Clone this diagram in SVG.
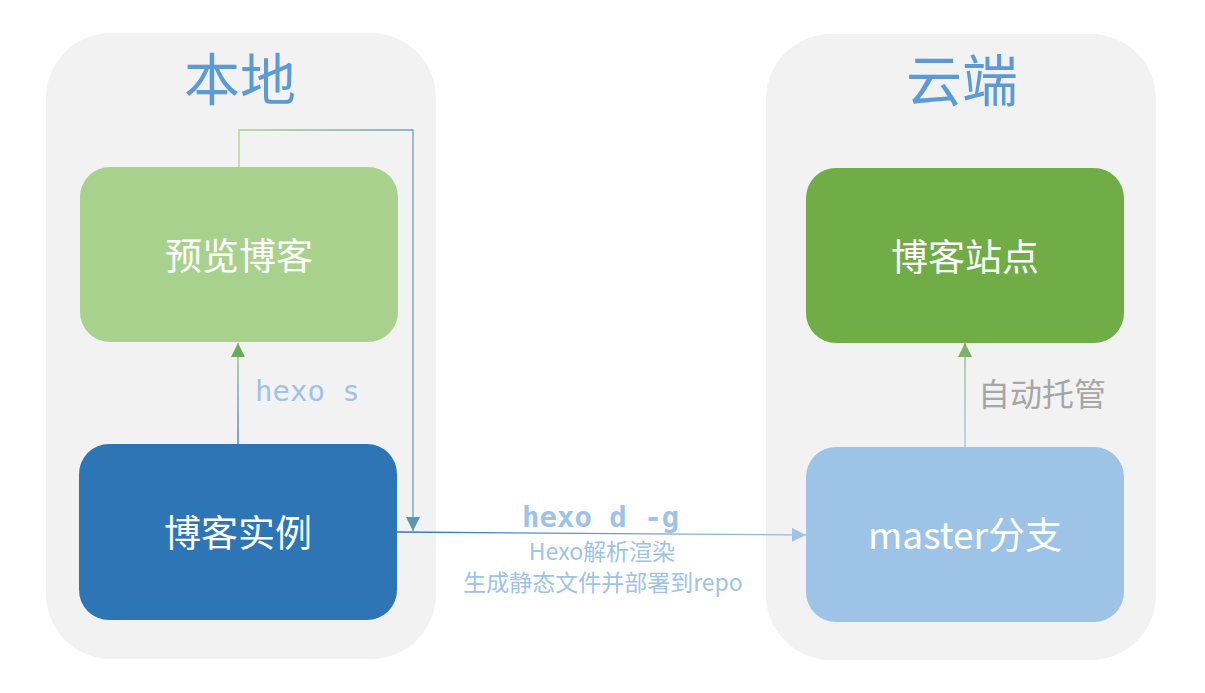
<svg xmlns="http://www.w3.org/2000/svg" width="1205" height="693" viewBox="0 0 1205 693">
<style>
.panel{fill:#F2F2F2}
.title{font-family:"Noto Sans CJK SC","Noto Sans",sans-serif;font-size:56px;fill:#5B9BD5;text-anchor:middle}
.lbl{font-family:"Noto Sans CJK SC","Noto Sans",sans-serif;font-size:37px;fill:#FFFFFF;text-anchor:middle}
.code{font-family:"DejaVu Sans Mono","Liberation Mono",monospace;font-size:29px;fill:#9DC3E6}
.note{font-family:"Noto Sans CJK SC","Noto Sans",sans-serif;font-size:23px;fill:#9DC3E6;text-anchor:middle}
.conn{fill:none;stroke-width:1.3}
</style>
<defs>
<linearGradient id="gS" gradientUnits="userSpaceOnUse" x1="238" y1="444" x2="238" y2="350">
<stop offset="0" stop-color="#4472C4"/><stop offset="1" stop-color="#8FC07A"/>
</linearGradient>
<linearGradient id="gLoop" gradientUnits="userSpaceOnUse" x1="239" y1="130" x2="413" y2="130">
<stop offset="0" stop-color="#A9D18E"/><stop offset="1" stop-color="#6E9FB8"/>
</linearGradient>
<linearGradient id="gD" gradientUnits="userSpaceOnUse" x1="397" y1="532" x2="806" y2="535">
<stop offset="0" stop-color="#2E75B6"/><stop offset="1" stop-color="#9DC3E6"/>
</linearGradient>
<linearGradient id="gA" gradientUnits="userSpaceOnUse" x1="965" y1="447" x2="965" y2="350">
<stop offset="0" stop-color="#9DC3E6"/><stop offset="1" stop-color="#8DB88A"/>
</linearGradient>
<marker id="mGreen" markerUnits="userSpaceOnUse" markerWidth="14" markerHeight="14" viewBox="0 0 12 12" refX="12" refY="6" orient="auto">
<path d="M0,0 L12,6 L0,12 Z" fill="#6AAB5A"/>
</marker>
<marker id="mTeal" markerUnits="userSpaceOnUse" markerWidth="14" markerHeight="14" viewBox="0 0 12 12" refX="12" refY="6" orient="auto">
<path d="M0,0 L12,6 L0,12 Z" fill="#5B97AF"/>
</marker>
<marker id="mLight" markerUnits="userSpaceOnUse" markerWidth="14" markerHeight="14" viewBox="0 0 12 12" refX="12" refY="6" orient="auto">
<path d="M0,0 L12,6 L0,12 Z" fill="#9DC3E6"/>
</marker>
<marker id="mGreen2" markerUnits="userSpaceOnUse" markerWidth="14" markerHeight="14" viewBox="0 0 12 12" refX="12" refY="6" orient="auto">
<path d="M0,0 L12,6 L0,12 Z" fill="#7AB06A"/>
</marker>
</defs>
<rect width="1205" height="693" fill="#FFFFFF"/>
<g id="panel-local">
<rect class="panel" x="46" y="33" width="390" height="626" rx="65"/>
<text class="title" x="240" y="100">本地</text>
</g>
<g id="panel-cloud">
<rect class="panel" x="766" y="34" width="390" height="626" rx="65"/>
<text class="title" x="962" y="101">云端</text>
</g>
<g id="connectors">
<path class="conn" d="M238,444 L238,343" stroke="url(#gS)" marker-end="url(#mGreen)"/>
<path class="conn" d="M239,167 L239,130 L413,130 L413,531" stroke="url(#gLoop)" marker-end="url(#mTeal)"/>
<path class="conn" d="M397,532 L806,535" stroke="url(#gD)" marker-end="url(#mLight)"/>
<path class="conn" d="M965,447 L965,343" stroke="url(#gA)" marker-end="url(#mGreen2)"/>
<text class="code" x="255" y="401">hexo s</text>
<text class="code" x="522" y="527" font-weight="bold">hexo d -g</text>
<text class="note" x="602" y="560">Hexo解析渲染</text>
<text class="note" x="603" y="591">生成静态文件并部署到repo</text>
<text x="1042" y="406" font-family="Noto Sans CJK SC,sans-serif" font-size="32" fill="#A6A6A6" text-anchor="middle">自动托管</text>
</g>
<g id="node-preview">
<rect x="80" y="167" width="318" height="175" rx="30" fill="#A9D18E"/>
<text class="lbl" x="239" y="270">预览博客</text>
</g>
<g id="node-instance">
<rect x="79" y="444" width="318" height="176" rx="30" fill="#2E75B6"/>
<text class="lbl" x="238" y="547">博客实例</text>
</g>
<g id="node-site">
<rect x="806" y="168" width="318" height="175" rx="30" fill="#70AD47"/>
<text class="lbl" x="965" y="271">博客站点</text>
</g>
<g id="node-master">
<rect x="806" y="447" width="318" height="175" rx="30" fill="#9DC3E6"/>
<text class="lbl" x="965" y="549">master分支</text>
</g>
</svg>
